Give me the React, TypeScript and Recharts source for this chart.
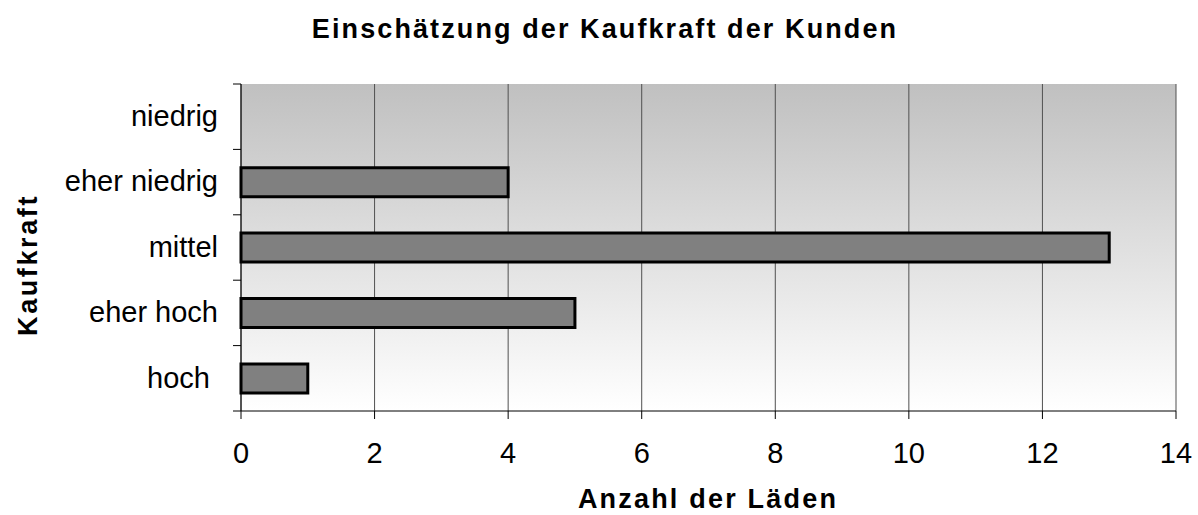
import React from 'react';
import { BarChart, Bar, XAxis, YAxis, CartesianGrid } from 'recharts';

// Kaufkraft categories, top to bottom, and number of shops per category
const CATEGORIES = ['niedrig', 'eher niedrig', 'mittel', 'eher hoch', 'hoch\u00a0'];
const COUNTS = [0, 4, 13, 5, 1];
const X_TICKS = [0, 2, 4, 6, 8, 10, 12, 14];

const TITLE = 'Einschätzung der Kaufkraft der Kunden';
const X_LABEL = 'Anzahl der Läden';
const Y_LABEL = 'Kaufkraft';

const FONT = '"Liberation Sans", Arial, sans-serif';
const W = 1198;
const H = 515;

const data = CATEGORIES.map((category, i) => ({ category, count: COUNTS[i] }));

// category tick: label at band centre, short tick lines at band boundaries
const CategoryTick = (props: any) => {
  const { x, y, payload, index } = props;
  const half = payload && payload.offset ? payload.offset : 32.6;
  const axisX = x + 23;
  return (
    <g>
      <line x1={axisX - 8} x2={axisX} y1={y - half} y2={y - half} stroke="#000" />
      {index === CATEGORIES.length - 1 && (
        <line x1={axisX - 8} x2={axisX} y1={y + half} y2={y + half} stroke="#000" />
      )}
      <text x={x} y={y} dy="0.32em" textAnchor="end" fontSize={29} fontFamily={FONT} fill="#000">
        {payload.value}
      </text>
    </g>
  );
};

export default function App() {
  return (
    <div style={{ position: 'absolute', left: 0, top: 0, width: W, height: H, background: '#fff' }}>
      <BarChart
        width={W}
        height={H}
        data={data}
        layout="vertical"
        margin={{ top: 84, right: 22, bottom: 0, left: 0 }}
        barCategoryGap="28%"
      >
        <defs>
          <linearGradient id="plotBg" x1="0" y1="0" x2="0" y2="1">
            <stop offset="0%" stopColor="#c0c0c0" />
            <stop offset="100%" stopColor="#ffffff" />
          </linearGradient>
        </defs>
        <CartesianGrid horizontal={false} stroke="#505050" fill="url(#plotBg)" fillOpacity={1} />
        <XAxis
          type="number"
          domain={[0, 14]}
          ticks={X_TICKS}
          interval={0}
          height={104}
          stroke="#000"
          tickSize={8}
          tickMargin={23}
          tick={{ fill: '#000', fontSize: 29, fontFamily: FONT }}
        />
        <XAxis
          xAxisId="top"
          orientation="top"
          type="number"
          domain={[0, 14]}
          height={0}
          tick={false}
          tickLine={false}
          stroke="#000"
        />
        <YAxis
          type="category"
          dataKey="category"
          width={241}
          stroke="#000"
          tickLine={false}
          tickSize={8}
          tickMargin={15}
          interval={0}
          tick={<CategoryTick />}
        />
        <YAxis
          yAxisId="right"
          orientation="right"
          type="number"
          width={0}
          tick={false}
          tickLine={false}
          stroke="#000"
        />
        <Bar dataKey="count" fill="#808080" stroke="#000" strokeWidth={3} isAnimationActive={false} />
      </BarChart>
      <svg
        width={W}
        height={H}
        style={{ position: 'absolute', left: 0, top: 0, pointerEvents: 'none' }}
      >
        <text x={605} y={38} textAnchor="middle" fontSize={27} fontWeight="bold" fontFamily={FONT} letterSpacing={2.1}>
          {TITLE}
        </text>
        <text x={708} y={508} textAnchor="middle" fontSize={27} fontWeight="bold" fontFamily={FONT} letterSpacing={2.2}>
          {X_LABEL}
        </text>
        <text
          x={0}
          y={0}
          transform="translate(37, 265) rotate(-90)"
          textAnchor="middle"
          fontSize={27}
          fontWeight="bold"
          fontFamily={FONT}
          letterSpacing={2.6}
        >
          {Y_LABEL}
        </text>
      </svg>
    </div>
  );
}
